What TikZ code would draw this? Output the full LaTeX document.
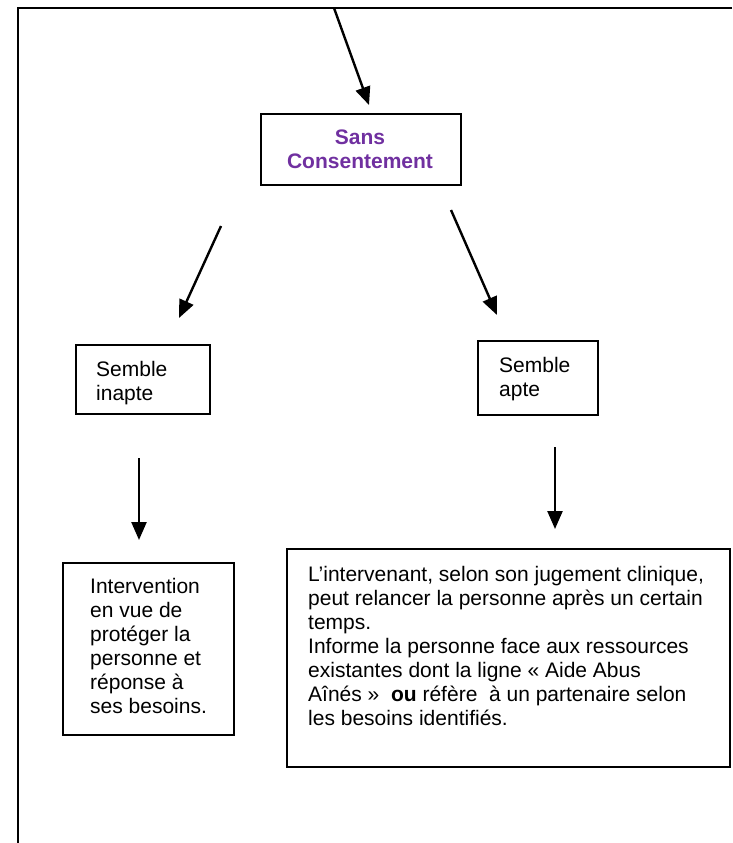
\documentclass[tikz,border=0pt]{standalone}
\usepackage{fontspec}
\setmainfont{Liberation Sans}
\usetikzlibrary{arrows.meta}
\definecolor{titlepurple}{RGB}{112,48,160}
\begin{document}
\begin{tikzpicture}[x=1pt,y=-1pt,
  frameline/.style={line width=2.2pt},
  boxshape/.style={draw, line width=1.8pt, inner sep=0pt, anchor=north west},
  txt/.style={inner sep=0pt, font=\fontsize{21}{24}\selectfont, align=left, anchor=north west},
  flow/.style={line width=2.4pt, -{Triangle[length=18pt,width=15pt]}}]
\useasboundingbox (0,0) rectangle (732,843);
% outer frame (open on right and bottom)
\coordinate (fr) at (732,8);
\coordinate (ftl) at (18,8);
\coordinate (fbl) at (18,843);
\draw[frameline] (fr) -- (ftl) -- (fbl);

% boxes
\node[boxshape, minimum width=200pt, minimum height=71pt] (sc) at (260,113) {};
\node[inner sep=0pt, font=\fontsize{21}{24}\selectfont\bfseries, text=titlepurple, align=center] (sct) at (360,149) {Sans\\Consentement};

\node[boxshape, minimum width=134pt, minimum height=69pt] (inb) at (75,344) {};
\node[txt] (int) at (96,361) {Semble\\inapte};

\node[boxshape, minimum width=120pt, minimum height=74pt] (apb) at (477,340) {};
\node[txt] (apt) at (499,357) {Semble\\apte};

\node[boxshape, minimum width=171pt, minimum height=172pt] (ivb) at (62,562) {};
\node[txt] (ivt) at (90,578) {Intervention\\en vue de\\protéger la\\personne et\\réponse à\\ses besoins.};

\node[boxshape, minimum width=443pt, minimum height=218pt] (bgb) at (286,548) {};
\node[txt] (bgt) at (308,566) {L’intervenant, selon son jugement clinique,\\peut relancer la personne après un certain\\temps.\\Informe la personne face aux ressources\\existantes dont la ligne « Aide Abus\\Aînés »~ \textbf{ou} réfère~ à un partenaire selon\\les besoins identifiés.};

% arrow end points
\coordinate (a1s) at (334,8);   \coordinate (a1e) at (369,105);
\coordinate (a2s) at (221,226); \coordinate (a2e) at (179,318);
\coordinate (a3s) at (451,210); \coordinate (a3e) at (497,315);
\coordinate (a4s) at (139,458); \coordinate (a4e) at (139,540);
\coordinate (a5s) at (555,447); \coordinate (a5e) at (555,529);
\draw[flow] (a1s) -- (a1e);
\draw[flow] (a2s) -- (a2e);
\draw[flow] (a3s) -- (a3e);
\draw[flow] (a4s) -- (a4e);
\draw[flow] (a5s) -- (a5e);
\end{tikzpicture}
\end{document}
